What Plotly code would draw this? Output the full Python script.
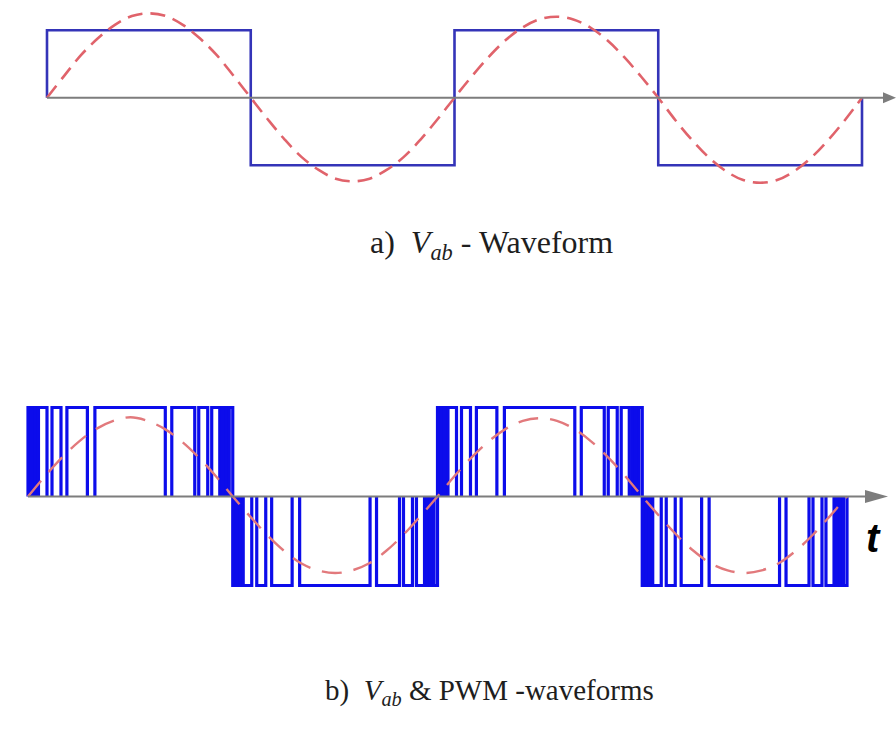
import plotly.graph_objects as go

W, H = 896, 735

# ---------------- data ----------------
# sample angles (electrical degrees) for the reference sines
angle_deg = list(range(0, 721, 15))

# (a) fundamental of the line voltage, p.u. of the six-step amplitude
fund_a = [0, 0.32, 0.63, 0.88, 1.08, 1.21, 1.25, 1.21, 1.08, 0.88, 0.63, 0.32,
          0, -0.32, -0.62, -0.88, -1.07, -1.20, -1.24, -1.20, -1.07, -0.88, -0.62, -0.32,
          0, 0.31, 0.60, 0.85, 1.04, 1.16, 1.20, 1.16, 1.04, 0.85, 0.60, 0.31,
          0, -0.33, -0.63, -0.89, -1.09, -1.22, -1.26, -1.22, -1.09, -0.89, -0.63, -0.33, 0]

# (a) six-step line voltage: half-cycle boundaries and level in each half cycle
half_cycle_bounds = [0, 180, 360, 540, 720]
six_step_levels = [1, -1, 1, -1]

# (b) reference sine, p.u. of the DC-link voltage
fund_b = [0, 0.23, 0.44, 0.62, 0.76, 0.85, 0.89, 0.85, 0.76, 0.62, 0.44, 0.23,
          0, -0.22, -0.43, -0.61, -0.75, -0.83, -0.86, -0.83, -0.75, -0.61, -0.43, -0.22,
          0, 0.23, 0.44, 0.62, 0.76, 0.85, 0.88, 0.85, 0.76, 0.62, 0.44, 0.23,
          0, -0.22, -0.43, -0.61, -0.75, -0.83, -0.86, -0.83, -0.75, -0.61, -0.43, -0.22, 0]

# (b) PWM on-intervals inside one half cycle (electrical degrees)
pwm_on_deg = [(0.0, 1.3), (3.1, 4.4), (6.1, 7.5), (9.2, 16.7), (21.1, 29.0),
              (34.2, 52.2), (58.8, 120.7), (126.4, 146.6), (150.1, 158.0),
              (161.5, 168.6), (170.8, 172.1), (173.8, 175.2), (176.9, 180.0)]
pwm_polarity = [1, -1, 1, -1]

# ---------------- build step outlines ----------------
sq_x, sq_y = [half_cycle_bounds[0]], [0]
for i, lv in enumerate(six_step_levels):
    a, b = half_cycle_bounds[i], half_cycle_bounds[i + 1]
    sq_x += [a, b]
    sq_y += [lv, lv]
sq_x.append(half_cycle_bounds[-1])
sq_y.append(0)

pwm_x, pwm_y = [], []
for i, p in enumerate(pwm_polarity):
    off = half_cycle_bounds[i]
    for a, b in pwm_on_deg:
        pwm_x += [off + a, off + a, off + b, off + b, None]
        pwm_y += [0, p, p, 0, None]

# ---------------- figure ----------------
SQ_BLUE = "#3434b8"
PWM_BLUE = "#0c0ceb"
SINE_RED = "#e0636b"
SINE_RED_B = "#e2797c"
AXIS_GRAY = "#7d7d7d"

fig = go.Figure()

fig.add_trace(go.Scatter(x=sq_x, y=sq_y, mode="lines", xaxis="x", yaxis="y",
                         line=dict(color=SQ_BLUE, width=2.6), hoverinfo="skip"))
fig.add_trace(go.Scatter(x=angle_deg, y=fund_a, mode="lines", xaxis="x", yaxis="y",
                         line=dict(color=SINE_RED, width=2.6, dash="15px,8px", shape="spline"),
                         hoverinfo="skip"))

fig.add_trace(go.Scatter(x=pwm_x, y=pwm_y, mode="lines", xaxis="x2", yaxis="y2",
                         line=dict(color=PWM_BLUE, width=3.2), hoverinfo="skip"))
fig.add_trace(go.Scatter(x=angle_deg, y=fund_b, mode="lines", xaxis="x2", yaxis="y2",
                         line=dict(color=SINE_RED_B, width=2.4, dash="20px,12px", shape="spline"),
                         hoverinfo="skip"))

# pixel scale of each panel
top_x0_px, top_deg_px = 47, (862 - 47) / 720
top_y0_px, top_unit_px = 97.7, 67.5
bot_x0_px, bot_deg_px = 28, (847 - 28) / 720
bot_y0_px, bot_unit_px = 496.5, 89.0

top_split = 367.5  # paper pixel row dividing the two panels

ax_common = dict(visible=False, fixedrange=True)
fig.update_layout(
    xaxis=dict(domain=[0, 1], anchor="y",
               range=[-top_x0_px / top_deg_px, (W - top_x0_px) / top_deg_px], **ax_common),
    yaxis=dict(domain=[1 - top_split / H, 1], anchor="x",
               range=[-(top_split - top_y0_px) / top_unit_px, top_y0_px / top_unit_px], **ax_common),
    xaxis2=dict(domain=[0, 1], anchor="y2",
                range=[-bot_x0_px / bot_deg_px, (W - bot_x0_px) / bot_deg_px], **ax_common),
    yaxis2=dict(domain=[0, 1 - top_split / H], anchor="x2",
                range=[-(H - bot_y0_px) / bot_unit_px, (bot_y0_px - top_split) / bot_unit_px],
                **ax_common),
)

# time axes with arrow heads
top_axis_end = (883 - top_x0_px) / top_deg_px
bot_axis_end = (865 - bot_x0_px) / bot_deg_px
shapes = [
    dict(type="line", xref="x", yref="y", x0=0, x1=top_axis_end, y0=0, y1=0,
         line=dict(color=AXIS_GRAY, width=2)),
    dict(type="path", xref="x", yref="y", xsizemode="pixel", ysizemode="pixel",
         xanchor=top_axis_end, yanchor=0, path="M0,-5.5 L13,0 L0,5.5 Z",
         fillcolor=AXIS_GRAY, line=dict(width=0)),
    dict(type="line", xref="x2", yref="y2", x0=0, x1=bot_axis_end, y0=0, y1=0,
         line=dict(color=AXIS_GRAY, width=2)),
    dict(type="path", xref="x2", yref="y2", xsizemode="pixel", ysizemode="pixel",
         xanchor=bot_axis_end, yanchor=0, path="M0,-6.5 L23,0 L0,6.5 Z",
         fillcolor=AXIS_GRAY, line=dict(width=0)),
]

serif_a = dict(family="Liberation Serif, Times New Roman, serif", size=32, color="#1e1e1e")
serif_b = dict(family="Liberation Serif, Times New Roman, serif", size=29, color="#1e1e1e")
annotations = [
    dict(xref="paper", yref="paper", x=368 / W, y=1 - 244 / H, xanchor="left", yanchor="middle",
         text="a)\u00a0\u00a0<i>V</i><sub><i>ab</i></sub>\u00a0- Waveform",
         showarrow=False, font=serif_a),
    dict(xref="paper", yref="paper", x=323 / W, y=1 - 692 / H, xanchor="left", yanchor="middle",
         text="b)\u00a0\u00a0<i>V</i><sub><i>ab</i></sub>\u00a0&amp; PWM -waveforms",
         showarrow=False, font=serif_b),
    dict(xref="paper", yref="paper", x=873 / W, y=1 - 538 / H, xanchor="center", yanchor="middle",
         text="<b><i>t</i></b>", showarrow=False,
         font=dict(family="Liberation Sans, Arial, sans-serif", size=40, color="#000000")),
]

fig.update_layout(
    width=W, height=H, margin=dict(l=0, r=0, t=0, b=0),
    paper_bgcolor="white", plot_bgcolor="white",
    showlegend=False, shapes=shapes, annotations=annotations,
)

fig.write_html("out.html")
